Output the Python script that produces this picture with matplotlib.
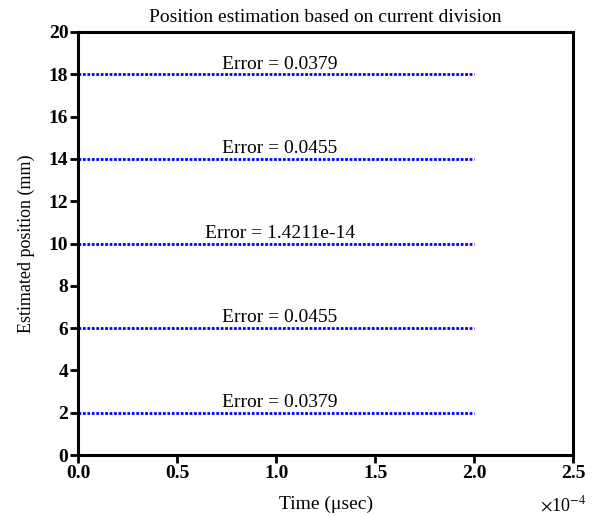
import numpy as np
import matplotlib
matplotlib.use("Agg")
import matplotlib.pyplot as plt

# data
time_span = [0.0, 2.0e-4]
positions = [2, 6, 10, 14, 18]
errors = ["0.0379", "0.0455", "1.4211e-14", "0.0455", "0.0379"]
xticks = [0.0, 0.5e-4, 1.0e-4, 1.5e-4, 2.0e-4, 2.5e-4]
xtick_labels = ["0.0", "0.5", "1.0", "1.5", "2.0", "2.5"]
yticks = [0, 2, 4, 6, 8, 10, 12, 14, 16, 18, 20]

plt.rcParams["font.family"] = ["Liberation Serif", "DejaVu Serif"]
plt.rcParams["mathtext.fontset"] = "stix"

fig = plt.figure(figsize=(5.96, 5.16), dpi=100)
ax = fig.add_axes([0.1309, 0.1182, 0.831, 0.8198])

for pos, err in zip(positions, errors):
    ax.plot(time_span, [pos, pos], color="#0000ff", linestyle=(0, (1, 0.6)), linewidth=2.0)
    ax.text(1.02e-4, pos + 0.08, "Error = " + err, ha="center", va="bottom", fontsize=14)

ax.set_xlim(0, 2.5e-4)
ax.set_ylim(0, 20)
ax.set_xticks(xticks)
ax.set_xticklabels(xtick_labels)
ax.set_yticks(yticks)
ax.set_yticklabels([str(v) for v in yticks])

for lbl in ax.get_xticklabels() + ax.get_yticklabels():
    lbl.set_fontweight("bold")
    lbl.set_fontsize(14)

ax.tick_params(direction="out", length=6, width=2, pad=1)
for sp in ax.spines.values():
    sp.set_linewidth(2.2)

ax.set_title("Position estimation based on current division", fontsize=14, pad=7.5)
ax.set_xlabel("Time (\u03bcsec)", fontsize=14, labelpad=10)
ax.set_ylabel("Estimated position (mm)", fontsize=13, labelpad=10)
ax.text(0.98, -0.095, r"$\times$10$^{-4}$", transform=ax.transAxes, ha="center",
        va="top", fontsize=13)

fig.savefig("out.png", dpi=100)
